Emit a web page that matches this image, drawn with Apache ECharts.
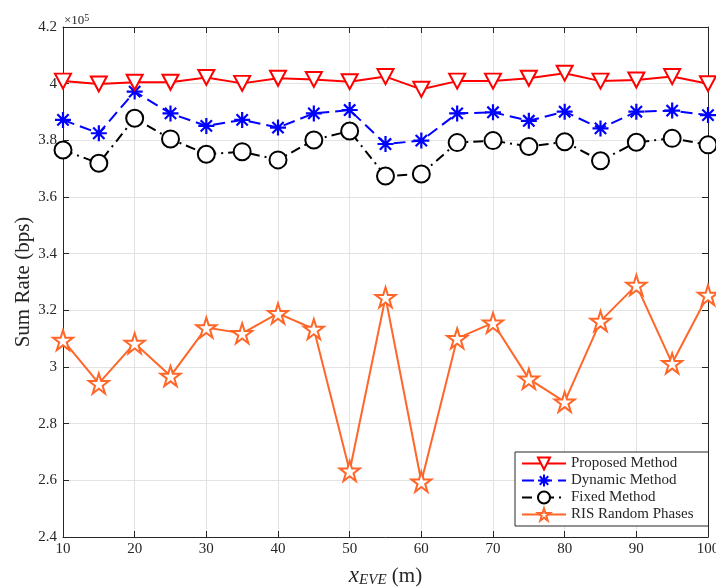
<!DOCTYPE html>
<html>
<head>
<meta charset="utf-8">
<script src="https://cdn.jsdelivr.net/npm/echarts@6/dist/echarts.min.js"></script>
<style>html,body{margin:0;padding:0;background:#fff}#c{width:716px;height:587px}</style>
</head>
<body>
<div id="c"></div>
<script>
var xValues = [10,15,20,25,30,35,40,45,50,55,60,65,70,75,80,85,90,95,100];
var proposed = [4.009,3.999,4.005,4.005,4.022,4.001,4.019,4.015,4.007,4.025,3.980,4.009,4.009,4.019,4.037,4.009,4.013,4.025,4.000];
var dynamic = [3.872,3.825,3.972,3.895,3.851,3.872,3.845,3.895,3.907,3.787,3.799,3.895,3.899,3.869,3.901,3.842,3.901,3.905,3.889];
var fixed = [3.766,3.719,3.878,3.805,3.751,3.760,3.731,3.801,3.833,3.674,3.681,3.792,3.799,3.778,3.795,3.728,3.793,3.807,3.784];
var risRandom = [3.095,2.942,3.084,2.968,3.139,3.119,3.189,3.134,2.633,3.246,2.595,3.101,3.156,2.958,2.877,3.162,3.289,3.013,3.254];
var seriesNames = ['Proposed Method','Dynamic Method','Fixed Method','RIS Random Phases'];

var FONT = '"Liberation Serif","DejaVu Serif",serif';
var AX = '#262626';
var STAR = 'path://M0,-1L0.2245,-0.309L0.9511,-0.309L0.3633,0.118L0.5878,0.809L0,0.382L-0.5878,0.809L-0.3633,0.118L-0.9511,-0.309L-0.2245,-0.309Z';
var ASTER = 'path://M0,-1L0,1M-1,0L1,0M-0.7071,-0.7071L0.7071,0.7071M-0.7071,0.7071L0.7071,-0.7071';

function pairs(ys){ return xValues.map(function(x,i){ return [x, ys[i]]; }); }

var chart = echarts.init(document.getElementById('c'), null, {renderer:'canvas'});
var baseX = {
  type:'value', min:10, max:100, interval:10,
  axisLine:{show:true, onZero:false, lineStyle:{color:AX, width:1}},
  axisTick:{show:true, inside:true, length:6, lineStyle:{color:AX}},
  splitLine:{show:false}
};
var baseY = {
  type:'value', min:2.4, max:4.2, interval:0.2,
  axisLine:{show:true, onZero:false, lineStyle:{color:AX, width:1}},
  axisTick:{show:true, inside:true, length:6, lineStyle:{color:AX}},
  splitLine:{show:false}
};
var option = {
  animation:false,
  backgroundColor:'#fff',
  grid:{left:63, right:8, top:27, bottom:50, containLabel:false, outerBoundsMode:'none'},
  xAxis:[
    Object.assign({}, baseX, {
      position:'bottom',
      axisLabel:{color:AX, fontFamily:FONT, fontSize:15, margin:5},
      splitLine:{show:true, lineStyle:{color:'#e3e3e3', width:1}},
      name:'{i|x}{s|EVE}{n| (m)}', nameLocation:'middle', nameGap:27, nameMoveOverlap:false,
      nameTextStyle:{rich:{
        i:{fontFamily:FONT, fontStyle:'italic', fontSize:23, color:AX},
        s:{fontFamily:FONT, fontStyle:'italic', fontSize:15, color:AX, verticalAlign:'bottom', padding:[9,0,0,0]},
        n:{fontFamily:FONT, fontSize:21, color:AX}
      }}
    }),
    Object.assign({}, baseX, {position:'top', axisLabel:{show:false}})
  ],
  yAxis:[
    Object.assign({}, baseY, {
      position:'left',
      axisLabel:{color:AX, fontFamily:FONT, fontSize:15, margin:6,
        formatter:function(v){ return String(parseFloat(v.toFixed(1))); }},
      splitLine:{show:true, lineStyle:{color:'#e3e3e3', width:1}},
      name:'Sum Rate (bps)', nameLocation:'middle', nameGap:29, nameMoveOverlap:false,
      nameTextStyle:{fontFamily:FONT, fontSize:21, color:AX}
    }),
    Object.assign({}, baseY, {position:'right', axisLabel:{show:false}})
  ],
  graphic:[{
    type:'text', left:64, top:13,
    style:{text:'×10{s|5}', fontFamily:FONT, fontSize:13, fill:AX,
      rich:{s:{fontSize:10, fontFamily:FONT, verticalAlign:'top', padding:[0,0,6,0], fill:AX}}}
  }],
  legend:{
    left:515, top:452, orient:'vertical',
    backgroundColor:'#fff', borderColor:AX, borderWidth:1, borderRadius:0,
    padding:[4,15,4,6], itemGap:2, itemWidth:44, itemHeight:15,
    textStyle:{fontFamily:FONT, fontSize:15, color:AX, lineHeight:15, padding:[0,0,0,0]},
    data:seriesNames
  },
  series:[
    {
      name:seriesNames[0], type:'line', data:pairs(proposed),
      symbol:'triangle', symbolRotate:180, symbolSize:[16,15],
      lineStyle:{color:'#ff0000', width:2, type:'solid'},
      itemStyle:{color:'#ffffff', borderColor:'#ff0000', borderWidth:2},
      z:5
    },
    {
      name:seriesNames[1], type:'line', data:pairs(dynamic),
      symbol:ASTER, symbolSize:16,
      lineStyle:{color:'#0000ff', width:2, type:[12,6]},
      itemStyle:{color:'#0000ff', borderColor:'#0000ff', borderWidth:2.2},
      z:4
    },
    {
      name:seriesNames[2], type:'line', data:pairs(fixed),
      symbol:'circle', symbolSize:17,
      lineStyle:{color:'#000000', width:2, type:[10,5,2,5]},
      itemStyle:{color:'#ffffff', borderColor:'#000000', borderWidth:2},
      z:3
    },
    {
      name:seriesNames[3], type:'line', data:pairs(risRandom),
      symbol:STAR, symbolSize:20,
      lineStyle:{color:'#ff6628', width:2, type:'solid'},
      itemStyle:{color:'#ffffff', borderColor:'#ff6628', borderWidth:2},
      z:2
    }
  ]
};
chart.setOption(option);
</script>
</body>
</html>
